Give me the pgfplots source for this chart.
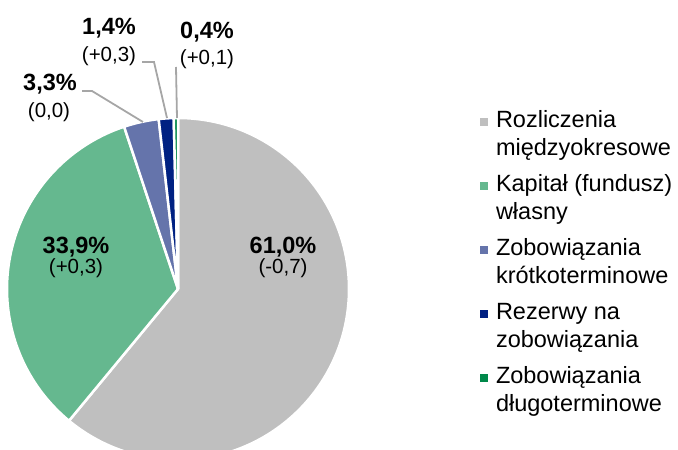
\documentclass[border=0pt]{standalone}
\usepackage{pgfplots}
\usepackage{pgfplotstable}
\pgfplotsset{compat=1.18}
\usepackage{fontspec}
\setmainfont{Liberation Sans}
\definecolor{pie0}{HTML}{BFBFBF}
\definecolor{pie1}{HTML}{65B88F}
\definecolor{pie2}{HTML}{6574AB}
\definecolor{pie3}{HTML}{002182}
\definecolor{pie4}{HTML}{00884A}
\definecolor{lead}{HTML}{A6A6A6}

\pgfplotstableread{
value
61.0
33.9
3.3
1.4
0.4
}\piedata

\begin{document}
\begin{tikzpicture}
\useasboundingbox (0,0) rectangle (678pt,450pt);
\def\cum{0}
\pgfplotsforeachungrouped \i in {0,...,4}{%
  \pgfplotstablegetelem{\i}{value}\of\piedata
  \let\v\pgfplotsretval
  \pgfmathsetmacro\st{90-3.6*\cum}%
  \pgfmathsetmacro\cum{\cum+\v}%
  \pgfmathsetmacro\en{90-3.6*\cum}%
  \expandafter\xdef\csname pieS\i\endcsname{\st}%
  \expandafter\xdef\csname pieE\i\endcsname{\en}%
}
\begin{axis}[
  at={(0,0)}, anchor=south west,
  scale only axis, width=678pt, height=450pt,
  xmin=0, xmax=678, ymin=0, ymax=450,
  hide axis, clip=false,
  legend image code/.code={\path[draw=none,fill=none] (0pt,-16pt) rectangle (8pt,16pt); \fill[#1, draw=none] (0pt,7pt) rectangle (8pt,15pt);},
  legend style={at={(axis cs:480,342)}, anchor=north west, draw=none, fill=none,
    inner sep=0pt, outer sep=0pt, row sep=15pt, column sep=8pt,
    font=\fontsize{23.5}{28}\selectfont,
    nodes={inner sep=0pt},
    cells={anchor=west, align=left}},
]
\pgfplotsinvokeforeach{0,...,4}{
  \fill[pie#1, draw=white, line width=2.5pt, line join=round]
    (axis cs:178,161) -- ++(\csname pieS#1\endcsname:171pt)
    arc[start angle=\csname pieS#1\endcsname, end angle=\csname pieE#1\endcsname, radius=171pt] -- cycle;
}
\addlegendimage{pie0}\addlegendentry{\strut Rozliczenia\\międzyokresowe\strut}
\addlegendimage{pie1}\addlegendentry{\strut Kapitał (fundusz)\\własny\strut}
\addlegendimage{pie2}\addlegendentry{\strut Zobowiązania\\krótkoterminowe\strut}
\addlegendimage{pie3}\addlegendentry{\strut Rezerwy na\\zobowiązania\strut}
\addlegendimage{pie4}\addlegendentry{\strut Zobowiązania\\długoterminowe\strut}

\draw[lead, line width=1.8pt] (axis cs:82,359) -- (axis cs:92,359) -- (axis cs:143,328);
\draw[lead, line width=1.8pt] (axis cs:142,388) -- (axis cs:154,388) -- (axis cs:167,332);
\draw[lead, line width=1.8pt] (axis cs:176,383) -- (axis cs:177,332);

\tikzset{bl/.style={anchor=base, inner sep=0pt, font=\fontsize{23.5}{28}\selectfont\bfseries},
         sl/.style={anchor=base, inner sep=0pt, font=\fontsize{20.5}{24}\selectfont}}
\node[bl] at (axis cs:283,196) {61,0\%};
\node[sl] at (axis cs:283,176) {(-0,7)};
\node[bl] at (axis cs:76,196) {33,9\%};
\node[sl] at (axis cs:76,176) {(+0,3)};
\node[bl] at (axis cs:50,359) {3,3\%};
\node[sl] at (axis cs:49,332) {(0,0)};
\node[bl] at (axis cs:109,415) {1,4\%};
\node[sl] at (axis cs:109,388) {(+0,3)};
\node[bl] at (axis cs:207,411) {0,4\%};
\node[sl] at (axis cs:207,385) {(+0,1)};
\end{axis}
\end{tikzpicture}
\end{document}
